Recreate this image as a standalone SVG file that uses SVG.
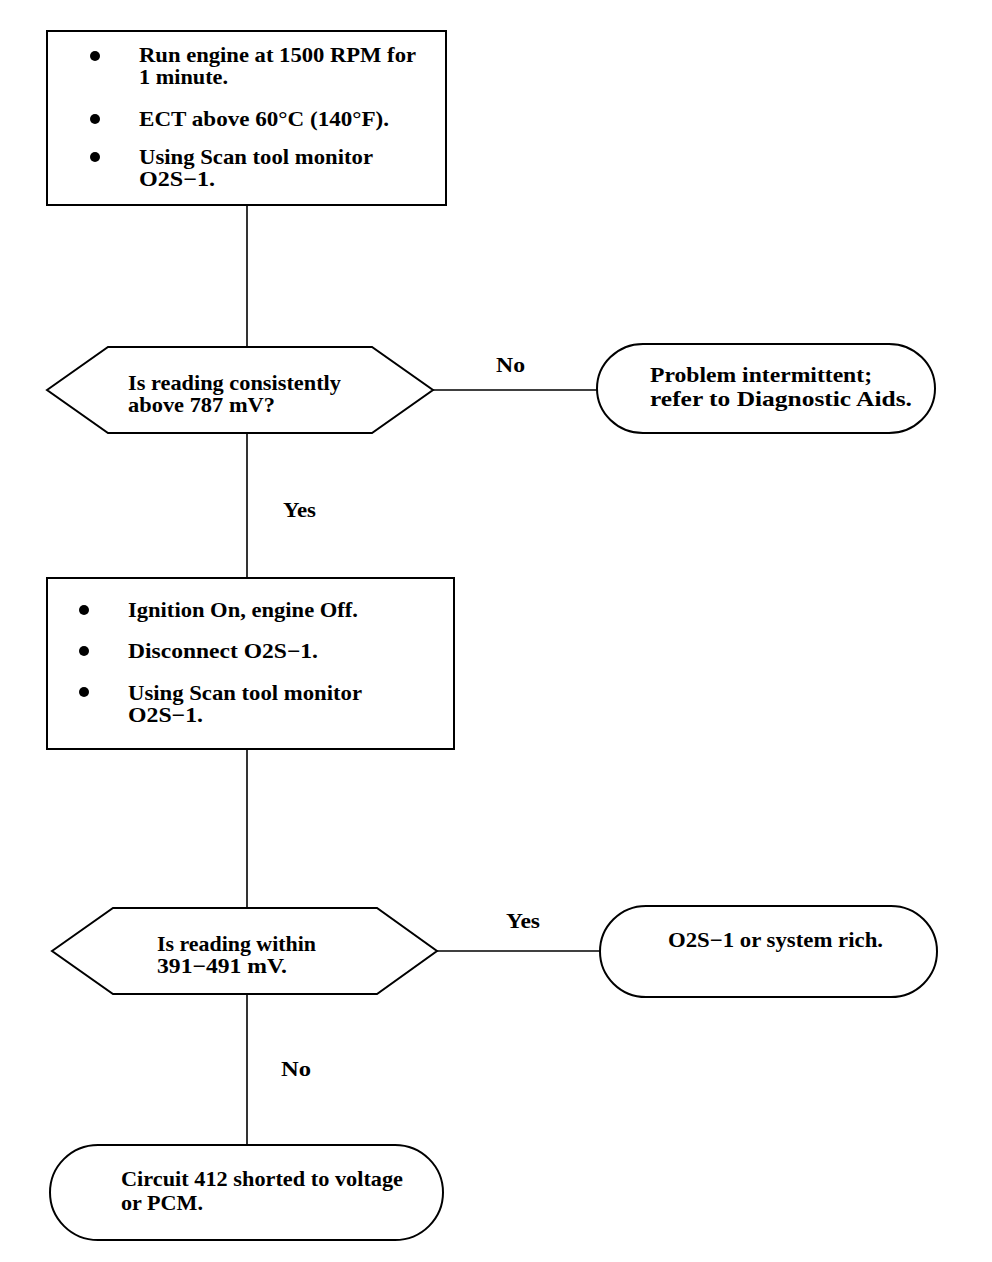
<svg xmlns="http://www.w3.org/2000/svg" width="992" height="1262" viewBox="0 0 992 1262">
<style>
.s{fill:#fff;stroke:#000;stroke-width:2}
.c{fill:none;stroke:#000;stroke-width:1.6}
text{font-family:"Liberation Serif","Times New Roman",serif;font-size:21px;font-weight:bold;fill:#000}
</style>
<rect width="992" height="1262" fill="#fff"/>
<g id="connectors">
<line class="c" x1="247" y1="205" x2="247" y2="347"/>
<line class="c" x1="433" y1="390" x2="597" y2="390"/>
<line class="c" x1="247" y1="433" x2="247" y2="578"/>
<line class="c" x1="247" y1="749" x2="247" y2="908"/>
<line class="c" x1="437" y1="951" x2="600" y2="951"/>
<line class="c" x1="247" y1="994" x2="247" y2="1145"/>
<text x="496" y="372" textLength="29" lengthAdjust="spacingAndGlyphs">No</text>
<text x="283" y="517" textLength="33" lengthAdjust="spacingAndGlyphs">Yes</text>
<text x="506" y="928" textLength="34" lengthAdjust="spacingAndGlyphs">Yes</text>
<text x="281" y="1076" textLength="30" lengthAdjust="spacingAndGlyphs">No</text>
</g>
<g id="step1">
<rect class="s" x="47" y="31" width="399" height="174"/>
<circle cx="95" cy="56" r="5"/>
<circle cx="95" cy="119" r="5"/>
<circle cx="95" cy="157" r="5"/>
<text x="139" y="62" textLength="277" lengthAdjust="spacingAndGlyphs">Run engine at 1500 RPM for</text>
<text x="139" y="84" textLength="89" lengthAdjust="spacingAndGlyphs">1 minute.</text>
<text x="139" y="126" textLength="250" lengthAdjust="spacingAndGlyphs">ECT above 60°C (140°F).</text>
<text x="139" y="164" textLength="234" lengthAdjust="spacingAndGlyphs">Using Scan tool monitor</text>
<text x="139" y="186" textLength="76" lengthAdjust="spacingAndGlyphs">O2S−1.</text>
</g>
<g id="decision1">
<polygon class="s" points="47,390 108,347 372,347 433,390 372,433 108,433"/>
<text x="128" y="390" textLength="213" lengthAdjust="spacingAndGlyphs">Is reading consistently</text>
<text x="128" y="412" textLength="147" lengthAdjust="spacingAndGlyphs">above 787 mV?</text>
</g>
<g id="result1">
<rect class="s" x="597" y="344" width="338" height="89" rx="46" ry="44.5"/>
<text x="650" y="382" textLength="222" lengthAdjust="spacingAndGlyphs">Problem intermittent;</text>
<text x="650" y="406" textLength="262" lengthAdjust="spacingAndGlyphs">refer to Diagnostic Aids.</text>
</g>
<g id="step2">
<rect class="s" x="47" y="578" width="407" height="171"/>
<circle cx="84" cy="610" r="5"/>
<circle cx="84" cy="651" r="5"/>
<circle cx="84" cy="692" r="5"/>
<text x="128" y="617" textLength="230" lengthAdjust="spacingAndGlyphs">Ignition On, engine Off.</text>
<text x="128" y="658" textLength="190" lengthAdjust="spacingAndGlyphs">Disconnect O2S−1.</text>
<text x="128" y="700" textLength="234" lengthAdjust="spacingAndGlyphs">Using Scan tool monitor</text>
<text x="128" y="722" textLength="75" lengthAdjust="spacingAndGlyphs">O2S−1.</text>
</g>
<g id="decision2">
<polygon class="s" points="52,951 113,908 377,908 437,951 377,994 113,994"/>
<text x="157" y="951" textLength="159" lengthAdjust="spacingAndGlyphs">Is reading within</text>
<text x="157" y="973" textLength="130" lengthAdjust="spacingAndGlyphs">391−491 mV.</text>
</g>
<g id="result2">
<rect class="s" x="600" y="906" width="337" height="91" rx="46" ry="45.5"/>
<text x="668" y="947" textLength="215" lengthAdjust="spacingAndGlyphs">O2S−1 or system rich.</text>
</g>
<g id="result3">
<rect class="s" x="50" y="1145" width="393" height="95" rx="48" ry="47.5"/>
<text x="121" y="1186" textLength="282" lengthAdjust="spacingAndGlyphs">Circuit 412 shorted to voltage</text>
<text x="121" y="1210" textLength="82" lengthAdjust="spacingAndGlyphs">or PCM.</text>
</g>
</svg>
